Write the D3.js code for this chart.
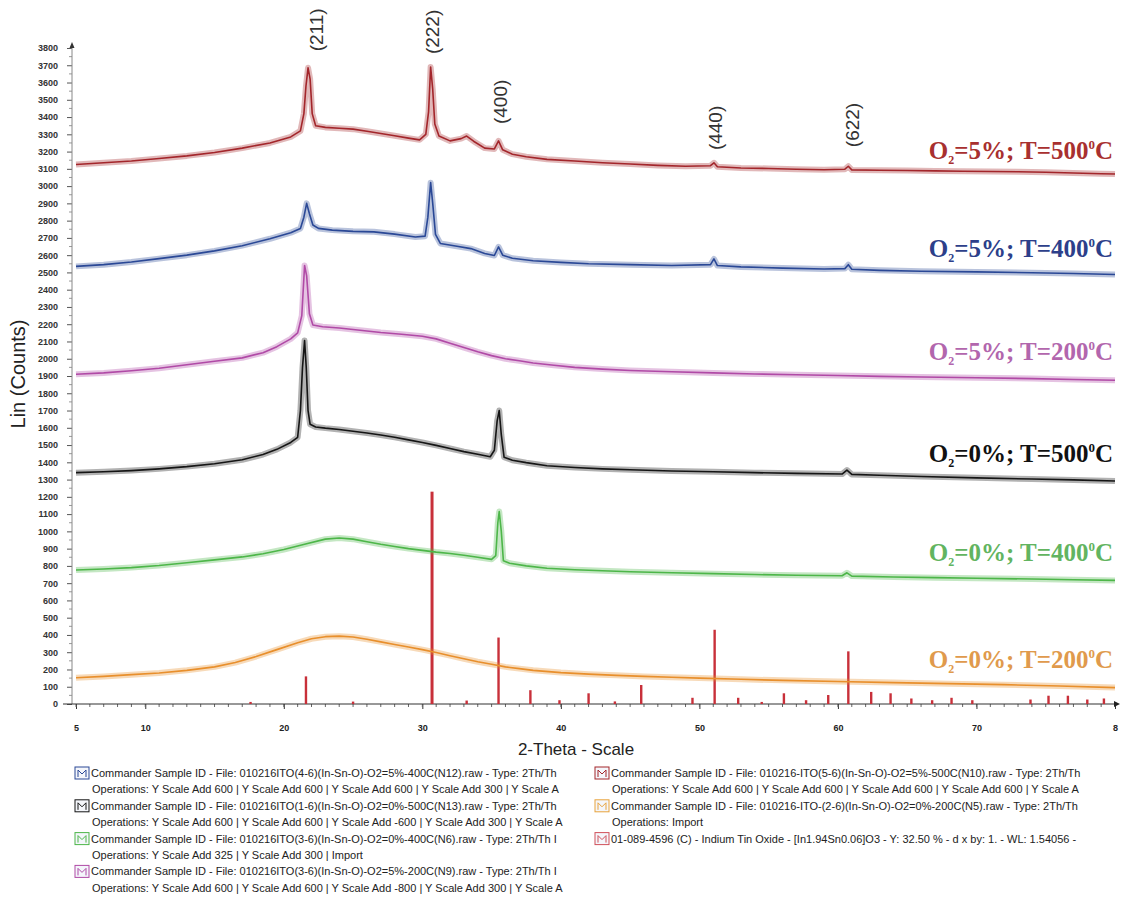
<!DOCTYPE html>
<html><head><meta charset="utf-8">
<script src="https://cdn.jsdelivr.net/npm/d3@7"></script>
<style>body{margin:0;background:#fff}</style>
</head><body><svg id="c" width="1121" height="907"></svg>
<script>
// ---------- DATA (2-Theta in degrees, counts) ----------
const o5t500 = [[5,3125],[7,3135],[9,3145],[11,3160],[13,3175],[15,3195],[17,3220],[19,3250],[20.5,3285],[21.2,3320],[21.45,3420],[21.6,3580],[21.75,3685],[21.9,3620],[22.05,3420],[22.3,3350],[23,3340],[24,3335],[25,3330],[26,3318],[27,3305],[28,3292],[29,3278],[29.8,3268],[30.25,3300],[30.45,3430],[30.6,3690],[30.75,3560],[30.9,3360],[31.2,3290],[32,3262],[32.8,3275],[33.2,3290],[33.7,3260],[34.5,3220],[35.2,3215],[35.5,3262],[35.8,3210],[36.5,3185],[37.5,3170],[39,3155],[41,3145],[43,3135],[45,3128],[47,3120],[49,3115],[50.8,3118],[51.05,3135],[51.3,3112],[53,3105],[55,3102],[57,3098],[59,3095],[60.5,3098],[60.75,3115],[61,3094],[63,3092],[65,3090],[67,3088],[69,3086],[71,3085],[73,3083],[75,3080],[77,3076],[79,3072],[80,3070]];
const o5t400 = [[5,2535],[7,2545],[9,2560],[11,2580],[13,2600],[15,2625],[17,2655],[19,2695],[20.5,2730],[21.2,2755],[21.45,2820],[21.65,2900],[21.85,2840],[22.1,2775],[22.5,2755],[23.5,2745],[25,2738],[26.5,2735],[28,2722],[29.5,2705],[30.2,2710],[30.4,2820],[30.6,3020],[30.75,2900],[30.95,2720],[31.3,2668],[32.5,2652],[33.5,2638],[34.5,2610],[35.2,2598],[35.5,2648],[35.8,2600],[36.5,2582],[38,2568],[40,2558],[42,2550],[45,2545],[48,2540],[50.8,2545],[51.05,2578],[51.3,2540],[53,2532],[56,2525],[59,2520],[60.5,2522],[60.75,2545],[61,2518],[63,2512],[66,2507],[70,2503],[74,2498],[77,2494],[80,2488]];
const o5t200 = [[5,1910],[7,1918],[9,1930],[11,1945],[13,1965],[15,1985],[17,2005],[18.5,2035],[19.5,2070],[20.5,2115],[21.0,2150],[21.3,2250],[21.5,2540],[21.65,2480],[21.85,2260],[22.1,2195],[22.8,2185],[24,2178],[25.5,2165],[27,2152],[28.5,2142],[30,2130],[31,2115],[32,2090],[33,2065],[34,2040],[35,2018],[36,2000],[37,1988],[38,1975],[39.5,1962],[41,1950],[43,1940],[45,1932],[48,1925],[51,1918],[54,1912],[57,1907],[60,1903],[63,1898],[66,1894],[70,1890],[74,1885],[77,1880],[80,1875]];
const o0t500 = [[5,1340],[7,1345],[9,1352],[11,1362],[13,1375],[15,1392],[17,1415],[18.5,1445],[19.5,1475],[20.5,1515],[21.0,1545],[21.2,1700],[21.35,1950],[21.5,2105],[21.62,1950],[21.75,1700],[21.9,1620],[22.3,1605],[23,1598],[24,1590],[25,1580],[26,1570],[27,1558],[28,1545],[29,1530],[30,1515],[31,1498],[32,1480],[33,1462],[34,1447],[34.9,1432],[35.2,1470],[35.4,1640],[35.55,1700],[35.7,1560],[35.9,1430],[36.5,1412],[37.5,1398],[39,1380],[41,1370],[43,1362],[45,1357],[48,1350],[51,1345],[54,1340],[57,1336],[60.3,1332],[60.65,1355],[61,1330],[63,1325],[66,1318],[70,1310],[74,1303],[77,1298],[80,1292]];
const o0t400 = [[5,776],[7,782],[9,790],[11,802],[13,818],[15,835],[17,852],[18.5,870],[20,895],[21.5,925],[23,955],[24,962],[25,955],[26,940],[27,925],[28,912],[29,900],[30,890],[31,880],[32,872],[33,862],[34,850],[35,838],[35.3,860],[35.45,1050],[35.55,1115],[35.7,1000],[35.85,830],[36.3,815],[37.5,800],[39,786],[41,778],[43,772],[45,766],[48,760],[51,755],[54,750],[57,746],[60.3,743],[60.65,760],[61,741],[64,736],[67,732],[70,728],[74,724],[77,720],[80,716]];
const o0t200 = [[5,152],[7,160],[9,170],[11,180],[13,195],[15,215],[16.5,240],[18,275],[19.5,315],[21,355],[22,378],[23,390],[24,393],[25,388],[26,375],[27,360],[28,345],[29,330],[30,315],[31,298],[32,280],[33,262],[34,245],[35,230],[36,215],[37,205],[38,195],[40,182],[42,173],[44,166],[46,160],[48,155],[50,150],[53,143],[56,137],[60,130],[64,124],[68,118],[72,112],[76,104],[80,95]];

// Reference pattern 01-089-4596 (Indium Tin Oxide)
const stickPos = [17.6,21.6,25.0,30.7,33.2,35.5,37.8,39.9,42.0,43.9,45.8,49.5,51.1,52.8,54.5,56.1,57.7,59.3,60.75,62.4,63.8,65.3,66.8,68.2,69.7,73.9,75.2,76.6,78.0,79.2];
const stickI   = [12,160,14,1230,20,385,80,22,62,15,110,36,430,36,12,62,22,52,305,70,62,32,22,36,22,26,48,48,26,32];

const seriesO2     = ["5","5","5","0","0","0"];
const seriesT      = ["500","400","200","500","400","200"];
const seriesColors = ["#a3262b","#2a4896","#b04aa6","#151515","#4db649","#e88f2c"];
const labelColors  = ["#a8302f","#2d3f8a","#b266ad","#111111","#62b460","#e09a4c"];
const seriesData   = [o5t500,o5t400,o5t200,o0t500,o0t400,o0t200];
const labelLevels  = [3155,2590,1990,1400,830,210];

const hklLabels = ["(211)","(222)","(400)","(440)","(622)"];
const hklPos    = [22.35,30.7,35.6,51.1,61.0];
const hklLevel  = [3905,3893,3488,3337,3354];

const yTicks = d3.range(0,3801,100);
const xTickVals = [5,10,20,30,40,50,60,70,80];
const xTickLabels = ["5","10","20","30","40","50","60","70","8"];

const legendLeft = [
 ["#2a4896","Commander Sample ID - File: 010216ITO(4-6)(In-Sn-O)-O2=5%-400C(N12).raw - Type: 2Th/Th","Operations: Y Scale Add 600 | Y Scale Add 600 | Y Scale Add 600 | Y Scale Add 300 | Y Scale A"],
 ["#151515","Commander Sample ID - File: 010216ITO(1-6)(In-Sn-O)-O2=0%-500C(N13).raw - Type: 2Th/Th","Operations: Y Scale Add 600 | Y Scale Add 600 | Y Scale Add -600 | Y Scale Add 300 | Y Scale A"],
 ["#4db649","Commander Sample ID - File: 010216ITO(3-6)(In-Sn-O)-O2=0%-400C(N6).raw - Type: 2Th/Th I","Operations: Y Scale Add 325 | Y Scale Add 300 | Import"],
 ["#b04aa6","Commander Sample ID - File: 010216ITO(3-6)(In-Sn-O)-O2=5%-200C(N9).raw - Type: 2Th/Th I","Operations: Y Scale Add 600 | Y Scale Add 600 | Y Scale Add -800 | Y Scale Add 300 | Y Scale A"]
];
const legendRight = [
 ["#a3262b","Commander Sample ID - File: 010216-ITO(5-6)(In-Sn-O)-O2=5%-500C(N10).raw - Type: 2Th/Th","Operations: Y Scale Add 600 | Y Scale Add 600 | Y Scale Add 600 | Y Scale Add 600 | Y Scale A"],
 ["#e8a33c","Commander Sample ID - File: 010216-ITO-(2-6)(In-Sn-O)-O2=0%-200C(N5).raw - Type: 2Th/Th","Operations: Import"],
 ["#d0505a","01-089-4596 (C) - Indium Tin Oxide - [In1.94Sn0.06]O3 - Y: 32.50 % - d x by: 1. - WL: 1.54056 -",null]
];

// ---------- DRAW ----------
const svg = d3.select("#c");
svg.append("rect").attr("width",1121).attr("height",907).attr("fill","#fff");
const x = d3.scaleLinear().domain([5,80]).range([76,1115]);
const y = d3.scaleLinear().domain([0,3800]).range([704,48]);
const axisX0 = 72;
const sans = "Liberation Sans, Arial, sans-serif";

// y axis
const yAx = svg.append("g").attr("transform",`translate(${axisX0},0)`)
  .call(d3.axisLeft(y).tickValues(yTicks).tickSize(5).tickPadding(9).tickFormat(d3.format("d")));
yAx.select(".domain").remove();
yAx.selectAll("line").attr("stroke","#555");
yAx.selectAll("text").attr("font-family",sans).attr("font-size",9).attr("fill","#333").attr("font-weight","bold");
svg.append("g").selectAll("line").data(d3.range(50,3800,100)).join("line")
  .attr("x1",axisX0-3).attr("x2",axisX0).attr("y1",d=>y(d)).attr("y2",d=>y(d)).attr("stroke","#999");
svg.append("line").attr("x1",axisX0).attr("x2",axisX0).attr("y1",y(0)).attr("y2",y(3800)-4).attr("stroke","#888");
svg.append("path").attr("d",`M${axisX0-2.5},${y(3800)} L${axisX0},${y(3800)-6} L${axisX0+2.5},${y(3800)} Z`).attr("fill","#333");

// x axis
const xAx = svg.append("g").attr("transform",`translate(0,${y(0)})`)
  .call(d3.axisBottom(x).tickValues(xTickVals).tickSize(5).tickPadding(16).tickFormat((d,i)=>xTickLabels[i]));
xAx.select(".domain").remove();
xAx.selectAll("line").attr("stroke","#333");
xAx.selectAll("text").attr("font-family",sans).attr("font-size",9).attr("fill","#222").attr("font-weight","bold");
svg.append("g").selectAll("line").data(d3.range(5,80,1)).join("line")
  .attr("x1",d=>x(d)).attr("x2",d=>x(d)).attr("y1",y(0)).attr("y2",y(0)+3).attr("stroke","#666");
svg.append("line").attr("x1",63).attr("x2",1117).attr("y1",y(0)).attr("y2",y(0)).attr("stroke","#333").attr("stroke-width",1.2);
svg.append("path").attr("d",`M1114,${y(0)-3} L1120,${y(0)} L1114,${y(0)+3} Z`).attr("fill","#222");

// axis titles
svg.append("text").attr("x",576).attr("y",755).attr("text-anchor","middle")
  .attr("font-family",sans).attr("font-size",17).attr("fill","#222").text("2-Theta - Scale");
svg.append("text").attr("transform","translate(25,374) rotate(-90)").attr("text-anchor","middle")
  .attr("font-family",sans).attr("font-size",20).attr("fill","#222").text("Lin (Counts)");

// reference sticks
svg.append("g").selectAll("line").data(stickPos).join("line")
  .attr("x1",d=>x(d)).attr("x2",d=>x(d)).attr("y1",y(0)).attr("y2",(d,i)=>y(stickI[i]))
  .attr("stroke","#c8303a").attr("stroke-width",(d,i)=>stickI[i]>1000?3:2.4);

// patterns
const line = d3.line().x(d=>x(d[0])).y(d=>y(d[1]));
seriesData.forEach((data,i)=>{
  svg.append("path").datum(data).attr("d",line).attr("fill","none")
    .attr("stroke",seriesColors[i]).attr("stroke-width",6).attr("stroke-opacity",0.33).attr("stroke-linejoin","round");
  svg.append("path").datum(data).attr("d",line).attr("fill","none")
    .attr("stroke",seriesColors[i]).attr("stroke-width",1.6).attr("stroke-linejoin","round");
});

// series labels
seriesData.forEach((data,i)=>{
  const t = svg.append("text").attr("x",1113).attr("y",y(labelLevels[i])).attr("text-anchor","end")
    .attr("font-family","Liberation Serif, Times New Roman, serif").attr("font-weight","bold")
    .attr("font-size",25).attr("fill",labelColors[i]);
  t.append("tspan").text("O");
  t.append("tspan").attr("font-size",12).attr("dy",5).text("2");
  t.append("tspan").attr("dy",-5).text(`=${seriesO2[i]}%; T=${seriesT[i]}`);
  t.append("tspan").attr("font-size",13).attr("dy",-10).text("0");
  t.append("tspan").attr("dy",10).text("C");
});

// hkl labels
hklLabels.forEach((s,i)=>{
  svg.append("text").attr("transform",`translate(${x(hklPos[i])+7},${y(hklLevel[i])}) rotate(-90)`)
    .attr("text-anchor","middle")
    .attr("font-family",sans).attr("font-size",19).attr("fill","#333").text(s);
});

// legend
function legendItem(x0,y0,color,t1,t2){
  const g = svg.append("g");
  g.append("rect").attr("x",x0).attr("y",y0-10).attr("width",14).attr("height",12).attr("fill","#f4f6fb").attr("stroke",color).attr("stroke-width",1);
  g.append("path").attr("d",`M${x0+3},${y0} L${x0+3},${y0-7} L${x0+7},${y0-3} L${x0+11},${y0-7} L${x0+11},${y0}`).attr("fill","none").attr("stroke",color).attr("stroke-width",1);
  g.append("text").attr("x",x0+16).attr("y",y0).attr("font-family",sans).attr("font-size",11).attr("fill","#222").text(t1);
  if(t2) g.append("text").attr("x",x0+17).attr("y",y0+16.4).attr("font-family",sans).attr("font-size",11).attr("fill","#222").text(t2);
}
legendLeft.forEach((d,i)=>legendItem(75,777+i*32.8,d[0],d[1],d[2]));
legendRight.forEach((d,i)=>legendItem(595,777+i*32.8,d[0],d[1],d[2]));
</script></body></html>
